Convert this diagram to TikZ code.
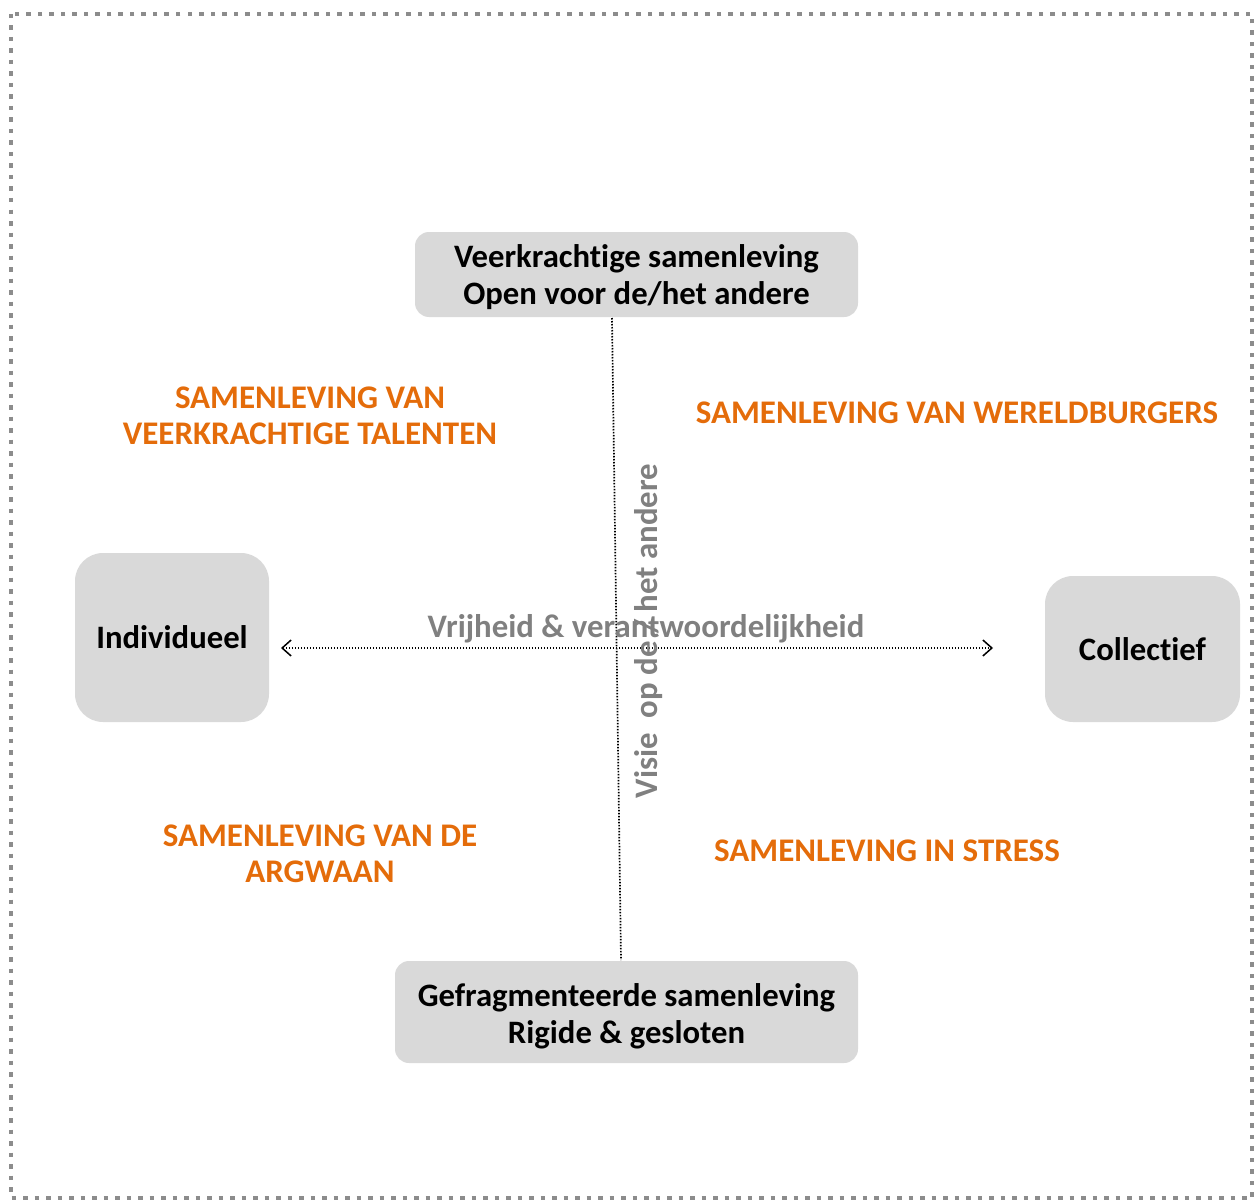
\documentclass[tikz,border=0pt]{standalone}
\usepackage{fontspec}
\setmainfont{Carlito}[Ligatures=NoCommon]
\usetikzlibrary{arrows.meta}
\definecolor{boxgray}{HTML}{D9D9D9}
\definecolor{orng}{HTML}{E46C0A}
\definecolor{txtgray}{HTML}{808080}
\definecolor{framegray}{HTML}{8C8C8C}
\tikzset{
  pole/.style={fill=boxgray, rounded corners=14pt, inner sep=0pt, align=center,
    font=\fontsize{32.7}{37}\selectfont\bfseries, text=black},
  quad/.style={text=orng, align=center, font=\fontsize{33}{36}\selectfont\bfseries},
  axislabel/.style={text=txtgray, font=\fontsize{32.8}{36}\selectfont\bfseries},
  dotline/.style={black, line width=1.7pt, dash pattern=on 1.5pt off 1.5pt},
  frame/.style={framegray, line width=4pt, dash pattern=on 4.5pt off 7pt}
}
\begin{document}
\begin{tikzpicture}[x=1pt,y=-1pt]
\useasboundingbox (0,0) rectangle (1255,1201);
\draw[frame] (11,14) rectangle (1252,1198);
% pole boxes
\node[pole, minimum width=443pt, minimum height=85pt] (top) at (636.5,274.5) {};
\node[pole, fill=none, font=\fontsize{32.7}{37}\selectfont\bfseries] (toptext) at (636.5,277.5)
  {Veerkrachtige samenleving\\Open voor de/het andere};
\node[pole, minimum width=463pt, minimum height=102pt] (bot) at (626.5,1012) {};
\node[pole, fill=none] (bottext) at (626.5,1016)
  {Gefragmenteerde samenleving\\Rigide \& gesloten};
\node[pole, rounded corners=28pt, minimum width=194pt, minimum height=169pt] (ind) at (172,637.5)
  {Individueel};
\node[pole, rounded corners=28pt, minimum width=195pt, minimum height=146pt] (col) at (1142.5,649)
  {Collectief};
% axes
\coordinate (vt) at (612,318);
\coordinate (vb) at (621,960);
\draw[dotline] (vt) -- (vb);
\coordinate (hl) at (281,648);
\coordinate (hr) at (993,648);
\draw[dotline, {Straight Barb[length=9pt,width=16pt,line width=1.5pt]}-{Straight Barb[length=9pt,width=16pt,line width=1.5pt]}] (hl) -- (hr);
% axis labels
\node[axislabel] (hlab) at (646,629) {Vrijheid \& verantwoordelijkheid};
\node[axislabel, rotate=90] (vlab) at (649,631) {Visie\ \ op de / het andere};
% quadrant labels
\node[quad] (q1) at (310,416) {SAMENLEVING VAN\\VEERKRACHTIGE TALENTEN};
\node[quad] (q2) at (957,413) {SAMENLEVING VAN WERELDBURGERS};
\node[quad] (q3) at (320,854) {SAMENLEVING VAN DE\\ARGWAAN};
\node[quad] (q4) at (887,851) {SAMENLEVING IN STRESS};
\end{tikzpicture}
\end{document}
